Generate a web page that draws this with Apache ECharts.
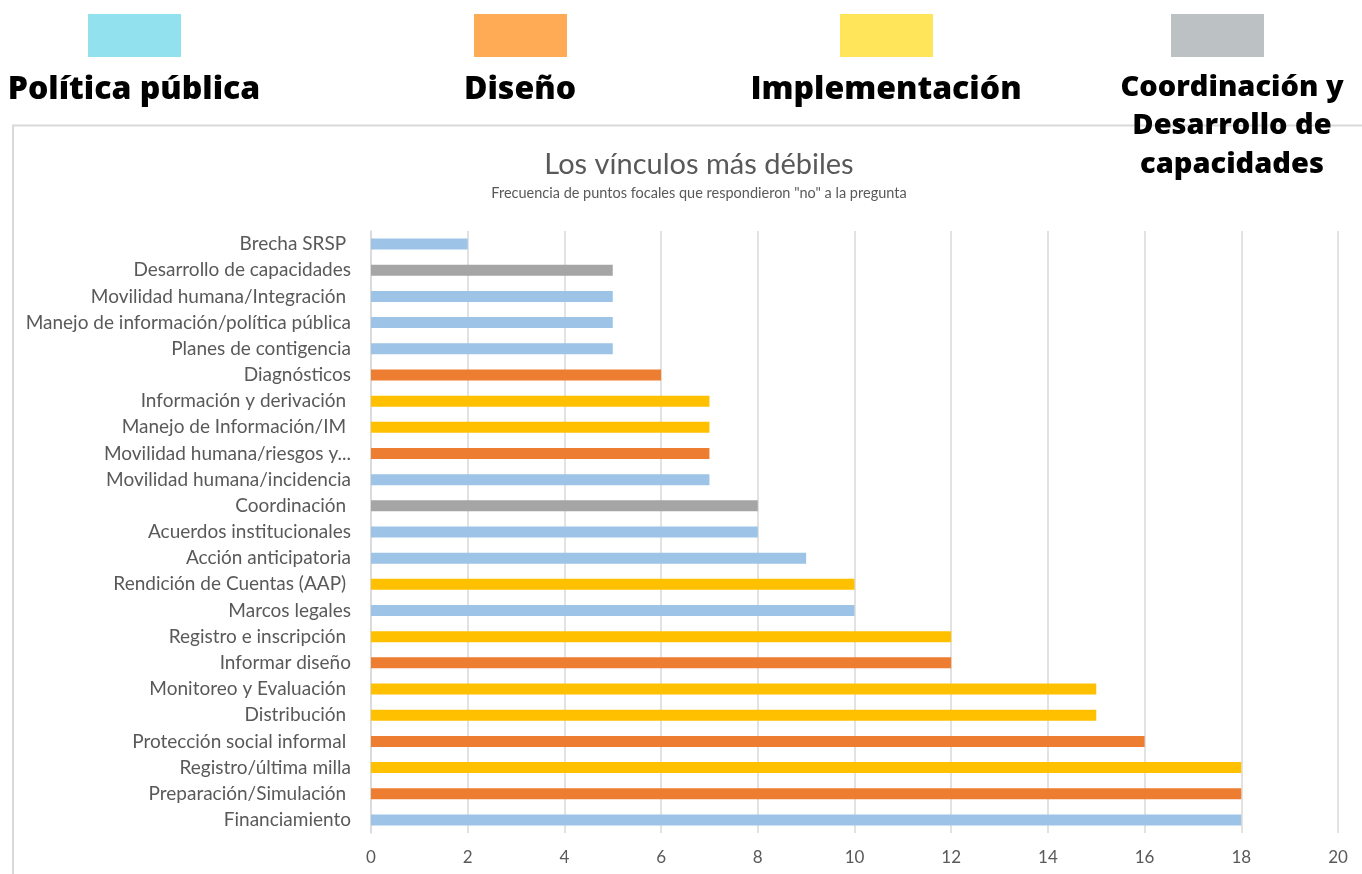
<!DOCTYPE html>
<html>
<head>
<meta charset="utf-8">
<script src="https://cdn.jsdelivr.net/npm/echarts@6/dist/echarts.min.js"></script>
<style>
  html, body { margin: 0; padding: 0; background: #fff; }
  #chart { width: 1362px; height: 874px; }
</style>
</head>
<body>
<div id="chart"></div>
<script>
// Categories, top to bottom
var categories = [
	"Brecha SRSP ",
	"Desarrollo de capacidades",
	"Movilidad humana/Integración ",
	"Manejo de información/política pública",
	"Planes de contigencia",
	"Diagnósticos",
	"Información y derivación ",
	"Manejo de Información/IM ",
	"Movilidad humana/riesgos y...",
	"Movilidad humana/incidencia",
	"Coordinación ",
	"Acuerdos institucionales",
	"Acción anticipatoria",
	"Rendición de Cuentas (AAP) ",
	"Marcos legales",
	"Registro e inscripción ",
	"Informar diseño",
	"Monitoreo y Evaluación ",
	"Distribución ",
	"Protección social informal ",
	"Registro/última milla",
	"Preparación/Simulación ",
	"Financiamiento"
];

// Count of "no" answers per category
var values = [2, 5, 5, 5, 5, 6, 7, 7, 7, 7, 8, 8, 9, 10, 10, 12, 12, 15, 15, 16, 18, 18, 18];

// Group of each category (index into groups)
var groupOf = [0, 3, 0, 0, 0, 1, 2, 2, 1, 0, 3, 0, 0, 2, 0, 2, 1, 2, 2, 1, 2, 1, 0];

// Legend groups
var groups = ["Política pública", "Diseño", "Implementación", "Coordinación y\nDesarrollo de\ncapacidades"];
var barColors = ["#9DC3E6", "#ED7D31", "#FFC000", "#A5A5A5"];
var swatchColors = ["#92E1EF", "#FFAA55", "#FFE55A", "#BCC2C4"];

// Axis ticks
var xMin = 0, xMax = 20, xStep = 2;

var chart = echarts.init(document.getElementById("chart"));

// Build bar items with colour of their group
var barData = values.map(function (v, i) {
	return { value: v, itemStyle: { color: barColors[groupOf[i]] } };
});

// Legend made from graphic elements (swatch over label)
var swatchX = [88, 474, 840, 1171];
var legendGraphics = [];
groups.forEach(function (name, i) {
	var last = (i == 3);
	legendGraphics.push({
		type: "rect",
		shape: { x: swatchX[i], y: 14, width: 93, height: 43 },
		style: { fill: swatchColors[i] },
		z: 10
	});
	legendGraphics.push({
		type: "text",
		x: last ? 1232 : swatchX[i] + 46,
		y: last ? 68 : 71,
		style: {
			text: name,
			fill: "#000",
			font: "800 " + (last ? 29 : 32) + "px 'Open Sans'",
			textAlign: "center",
			textVerticalAlign: "top",
			lineHeight: 38.5
		},
		z: 20
	});
});

var option = {
	animation: false,
	backgroundColor: "#fff",
	title: {
		text: "Los vínculos más débiles",
		subtext: "Frecuencia de puntos focales que respondieron \"no\" a la pregunta",
		left: 694,
		textAlign: "center",
		top: 145,
		itemGap: 7,
		textStyle: { fontFamily: "Lato", fontSize: 29, fontWeight: "normal", color: "#595959" },
		subtextStyle: { fontFamily: "Lato", fontSize: 14.5, color: "#595959" }
	},
	graphic: [
		{
			type: "polyline",
			shape: { points: [[13, 874], [13, 125.5], [1362, 125.5]] },
			style: { stroke: "#D9D9D9", lineWidth: 2, fill: null },
			z: 0
		}
	].concat(legendGraphics),
	grid: { left: 371, right: 24, top: 231, bottom: 41 },
	xAxis: {
		type: "value",
		min: xMin,
		max: xMax,
		interval: xStep,
		axisLine: { show: false },
		axisTick: { show: false },
		splitLine: { show: true, lineStyle: { color: "#D9D9D9", width: 1.5 } },
		axisLabel: { color: "#595959", fontFamily: "Lato", fontSize: 17, margin: 16 }
	},
	yAxis: {
		type: "category",
		data: categories,
		inverse: true,
		axisLine: { show: true, lineStyle: { color: "#D9D9D9", width: 1.5 } },
		axisTick: { show: false },
		axisLabel: { color: "#595959", fontFamily: "Lato", fontSize: 19, margin: 20 }
	},
	series: [
		{
			type: "bar",
			data: barData,
			barWidth: 11,
			z: 3
		}
	]
};

chart.setOption(option);
</script>
</body>
</html>
